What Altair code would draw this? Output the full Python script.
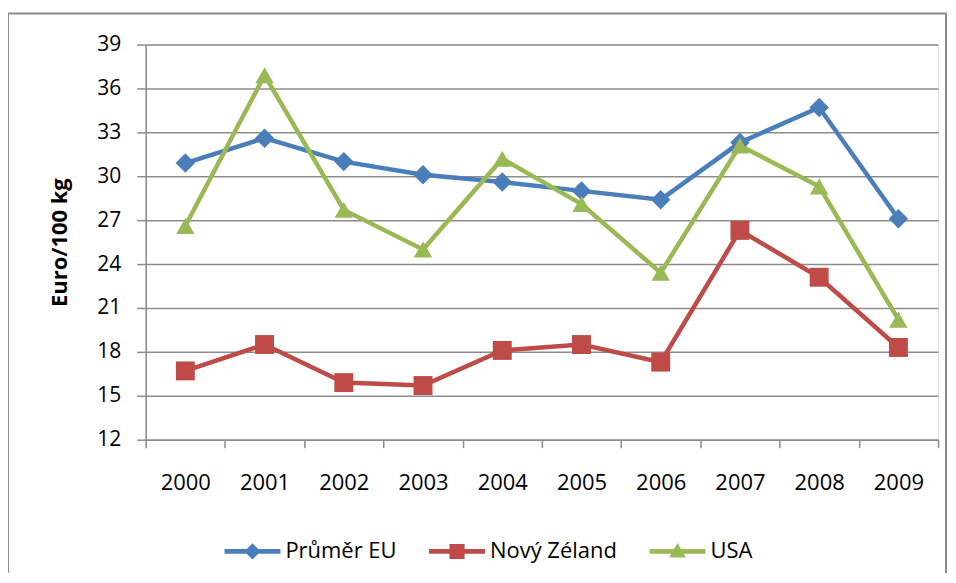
import altair as alt
import pandas as pd

years = ["2000", "2001", "2002", "2003", "2004", "2005", "2006", "2007", "2008", "2009"]
series_names = ["Průměr EU", "Nový Zéland", "USA"]
eu = [30.9, 32.6, 31.0, 30.1, 29.6, 29.0, 28.4, 32.3, 34.7, 27.1]
nz = [16.7, 18.5, 15.9, 15.7, 18.1, 18.5, 17.3, 26.3, 23.1, 18.3]
usa = [26.6, 36.9, 27.7, 25.0, 31.2, 28.1, 23.4, 32.1, 29.3, 20.2]
y_ticks = [12, 15, 18, 21, 24, 27, 30, 33, 36, 39]

colors = ["#4A7EBB", "#BE4B48", "#98B954"]
marker_shapes = ["diamond", "square", "triangle-up"]
marker_sizes = [380, 340, 450]
legend_shapes = [
    "M-1,-0.084 L1,-0.084 L1,0.084 L-1,0.084 Z M0,-0.29 L0.29,0 L0,0.29 L-0.29,0 Z",
    "M-1,-0.084 L1,-0.084 L1,0.084 L-1,0.084 Z M-0.27,-0.27 L0.27,-0.27 L0.27,0.27 L-0.27,0.27 Z",
    "M-1,-0.084 L1,-0.084 L1,0.084 L-1,0.084 Z M0,-0.3 L0.3,0.22 L-0.3,0.22 Z",
]

rows = []
for name, vals in zip(series_names, [eu, nz, usa]):
    for yr, v in zip(years, vals):
        rows.append({"year": yr, "series": name, "value": v})
df = pd.DataFrame(rows)

FONT = "Open Sans"
GRID = "#8C8C8C"

x_enc = alt.X(
    "year:O",
    bandPosition=0.5,
    scale=alt.Scale(type="band", paddingInner=0, paddingOuter=0),
    axis=alt.Axis(
        title=None, labelAngle=0, tickBand="extent", tickSize=8,
        labelPadding=25, labelFontSize=22, labelFont=FONT, labelColor="#000000",
        domainColor=GRID, tickColor=GRID, domainWidth=1.5, tickWidth=1.5, grid=False,
    ),
)
y_enc = alt.Y(
    "value:Q",
    scale=alt.Scale(domain=[12, 39], nice=False, zero=False),
    axis=alt.Axis(
        title="Euro/100 kg", values=y_ticks, tickSize=9, labelPadding=16,
        labelFontSize=21, labelFont=FONT, labelColor="#000000",
        titleFont=FONT, titleFontSize=22, titleFontWeight="bold", titleColor="#000000",
        titlePadding=25, domainColor=GRID, tickColor=GRID, domainWidth=1.5, tickWidth=1.5,
        grid=True, gridColor=GRID, gridWidth=1.5,
    ),
)
color_scale = alt.Scale(domain=series_names, range=colors)

base = alt.Chart(df)

lines = base.mark_line(strokeWidth=4.5).encode(
    x=x_enc, y=y_enc,
    color=alt.Color("series:N", scale=color_scale, legend=None),
    detail="series:N",
)

points = base.mark_point(filled=True, opacity=1).encode(
    x=x_enc, y=y_enc,
    color=alt.Color("series:N", scale=color_scale, legend=None),
    shape=alt.Shape("series:N", scale=alt.Scale(domain=series_names, range=marker_shapes), legend=None),
    size=alt.Size("series:N", scale=alt.Scale(domain=series_names, range=marker_sizes), legend=None),
)

leg = dict(
    title=None, orient="none", direction="horizontal", legendX=79, legendY=480,
    symbolSize=3136, symbolStrokeWidth=0, labelFontSize=22, labelFont=FONT,
    labelColor="#000000", labelOffset=5, columnPadding=32, symbolOpacity=1,
)

legend_layer = base.transform_filter("false").mark_point(filled=True).encode(
    x=x_enc, y=y_enc,
    color=alt.Color("series:N", scale=color_scale, legend=alt.Legend(**leg)),
    shape=alt.Shape(
        "series:N",
        scale=alt.Scale(domain=series_names, range=legend_shapes),
        legend=alt.Legend(**leg),
    ),
)

frame = alt.Chart(pd.DataFrame({"a": [0]})).mark_rect(
    fill=None, stroke="#8C8C8C", strokeWidth=2
).encode(
    x=alt.value(-138), x2=alt.value(802), y=alt.value(-31), y2=alt.value(600)
)

chart = alt.layer(frame, lines, points, legend_layer).resolve_scale(
    shape="independent", color="independent"
).properties(
    width=794, height=396,
    autosize=alt.AutoSizeParams(type="none"),
    padding={"left": 138, "top": 36, "right": 10, "bottom": 133},
).configure_view(stroke=None).configure(background="white")

chart.save("out.html", embed_options={"renderer": "svg", "actions": False})
